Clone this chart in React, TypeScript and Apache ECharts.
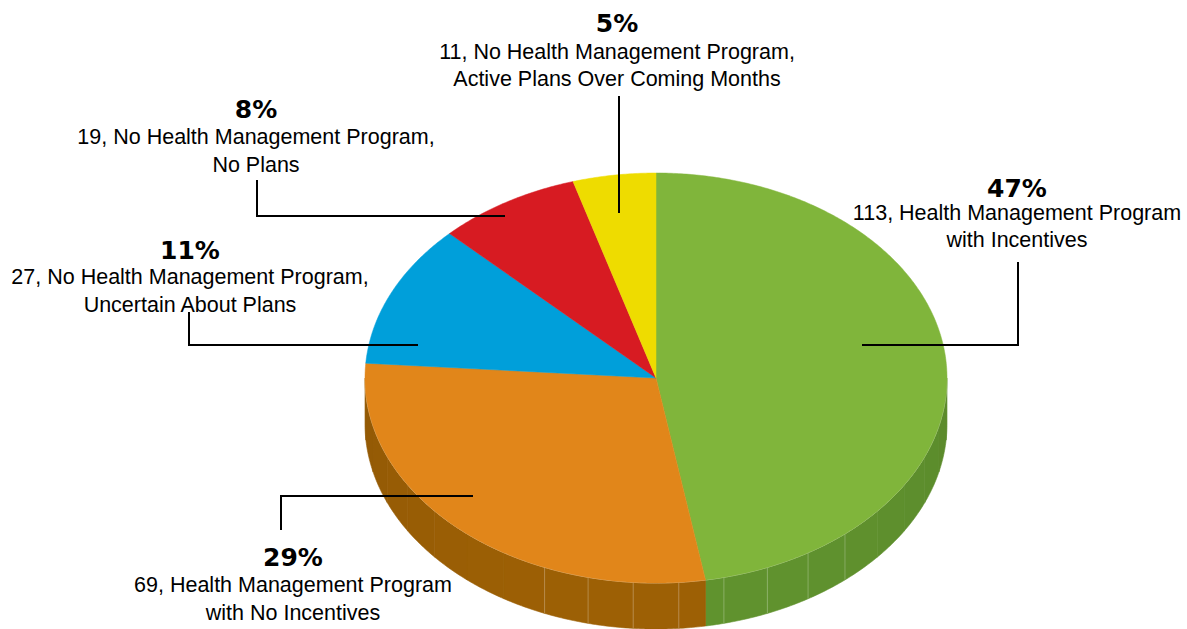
import React, { useEffect, useRef } from "react";
import * as echarts from "echarts";

// ---------------- data ----------------
const categories: string[] = [
  "Health Management Program with Incentives",
  "Health Management Program with No Incentives",
  "No Health Management Program, Uncertain About Plans",
  "No Health Management Program, No Plans",
  "No Health Management Program, Active Plans Over Coming Months",
];
const values: number[] = [113, 69, 27, 19, 11];
const labelHead: string[] = [
  "Health Management Program",
  "Health Management Program",
  "No Health Management Program,",
  "No Health Management Program,",
  "No Health Management Program,",
];
const labelTail: string[] = [
  "with Incentives",
  "with No Incentives",
  "Uncertain About Plans",
  "No Plans",
  "Active Plans Over Coming Months",
];

// ---------------- styles / layout ----------------
const topColors = ["#80B53B", "#E1861A", "#009FDA", "#D71B22", "#EEDC00"];
const sideColors = ["#5A892B", "#935A05", "#006F99", "#971318", "#A69A00"];

const CX = 656;
const CY = 378;
const RX = 291;
const RY = 205;
const DEPTH = 46;

const labelLayout = [
  { x: 1017, pctY: 188, y1: 213, y2: 240, line: [[862, 345], [1018, 345], [1018, 262]] },
  { x: 293, pctY: 557, y1: 585, y2: 613, line: [[473, 496], [281, 496], [281, 530]] },
  { x: 190, pctY: 250, y1: 277, y2: 305, line: [[418, 345], [189, 345], [189, 312]] },
  { x: 256, pctY: 109, y1: 137, y2: 165, line: [[505, 216], [257, 216], [257, 180]] },
  { x: 617, pctY: 23, y1: 52, y2: 79, line: [[619, 213], [619, 96]] },
];

const DEG = Math.PI / 180;
const total = values.reduce((a, b) => a + b, 0);
const starts: number[] = [];
{
  let acc = 0;
  values.forEach((v) => {
    starts.push((acc / total) * 360);
    acc += v;
  });
}

function pt(deg: number): number[] {
  const t = deg * DEG;
  return [CX + RX * Math.sin(t), CY - RY * Math.cos(t)];
}

function arc(a0: number, a1: number): number[][] {
  const pts: number[][] = [];
  for (let t = a0; t < a1; t += 0.5) pts.push(pt(t));
  pts.push(pt(a1));
  return pts;
}

function shade(hex: string, f: number): string {
  const n = parseInt(hex.slice(1), 16);
  const r = Math.min(255, Math.round(((n >> 16) & 255) * f));
  const g = Math.min(255, Math.round(((n >> 8) & 255) * f));
  const b = Math.min(255, Math.round((n & 255) * f));
  return `rgb(${r},${g},${b})`;
}

function renderSide(params: any, api: any) {
  const i = params.dataIndex;
  const a0 = starts[i];
  const a1 = a0 + (api.value(0) / total) * 360;
  const lo = Math.max(a0, 90);
  const hi = Math.min(a1, 270);
  const children: any[] = [];
  if (hi > lo) {
    const cuts = [lo];
    for (let b = 94.5; b < 270; b += 9) if (b > lo + 0.5 && b < hi - 0.5) cuts.push(b);
    cuts.push(hi);
    for (let k = 0; k < cuts.length - 1; k++) {
      const t0 = cuts[k];
      const t1 = cuts[k + 1];
      const top = arc(t0, t1);
      const bottom = top.slice().reverse().map((p) => [p[0], p[1] + DEPTH]);
      const mid = (t0 + t1) / 2;
      const f = 1 + 0.07 * Math.cos((mid - 175) * DEG);
      const c = shade(sideColors[i], f);
      children.push({
        type: "polygon",
        shape: { points: top.concat(bottom) },
        style: { fill: c, stroke: c, lineWidth: 0.6 },
      });
    }
    for (let k = 1; k < cuts.length - 1; k++) {
      if (cuts[k] < 138 || cuts[k] > 206) continue;
      const p = pt(cuts[k]);
      children.push({
        type: "line",
        shape: { x1: p[0], y1: p[1], x2: p[0], y2: p[1] + DEPTH },
        style: { stroke: "rgba(255,255,255,0.25)", lineWidth: 1 },
      });
    }
    children.push({
      type: "polyline",
      shape: { points: arc(lo, hi) },
      style: { stroke: "rgba(255,255,255,0.5)", lineWidth: 1, fill: "none" },
      z2: 5,
    });
  }
  return { type: "group", children };
}

function renderTop(params: any, api: any) {
  const i = params.dataIndex;
  const a0 = starts[i];
  const a1 = a0 + (api.value(0) / total) * 360;
  const pts = [[CX, CY]].concat(arc(a0, a1));
  return {
    type: "polygon",
    shape: { points: pts },
    style: { fill: topColors[i], stroke: topColors[i], lineWidth: 0.5 },
  };
}

function renderLabel(params: any, api: any) {
  const i = params.dataIndex;
  const v = api.value(0);
  const L = labelLayout[i];
  const pct = Math.round((v / total) * 100) + "%";
  const txt = (text: string, y: number, font: string) => ({
    type: "text",
    style: {
      text,
      x: L.x,
      y,
      font,
      fill: "#000",
      align: "center",
      verticalAlign: "middle",
      textAlign: "center",
      textVerticalAlign: "middle",
    },
  });
  return {
    type: "group",
    children: [
      {
        type: "polyline",
        shape: { points: L.line },
        style: { stroke: "#000", lineWidth: 2, fill: "none" },
      },
      txt(pct, L.pctY, "bold 25px 'DejaVu Sans'"),
      txt(`${v}, ${labelHead[i]}`, L.y1, "21.5px 'Liberation Sans'"),
      txt(labelTail[i], L.y2, "21.5px 'Liberation Sans'"),
    ],
  };
}

export default function App() {
  const ref = useRef<HTMLDivElement>(null);
  useEffect(() => {
    document.body.style.margin = "0";
    document.body.style.overflow = "hidden";
    if (!ref.current) return;
    const chart = echarts.init(ref.current, null, { renderer: "svg" });
    const data = values.map((v, i) => ({ name: categories[i], value: v }));
    chart.setOption({
      animation: false,
      backgroundColor: "#ffffff",
      series: [
        { type: "custom", coordinateSystem: "none", renderItem: renderSide, data, z: 1, silent: true },
        { type: "custom", coordinateSystem: "none", renderItem: renderTop, data, z: 2, silent: true },
        { type: "custom", coordinateSystem: "none", renderItem: renderLabel, data, z: 3, silent: true },
      ],
    });
    return () => chart.dispose();
  }, []);
  return <div ref={ref} style={{ width: 1187, height: 629 }} />;
}
